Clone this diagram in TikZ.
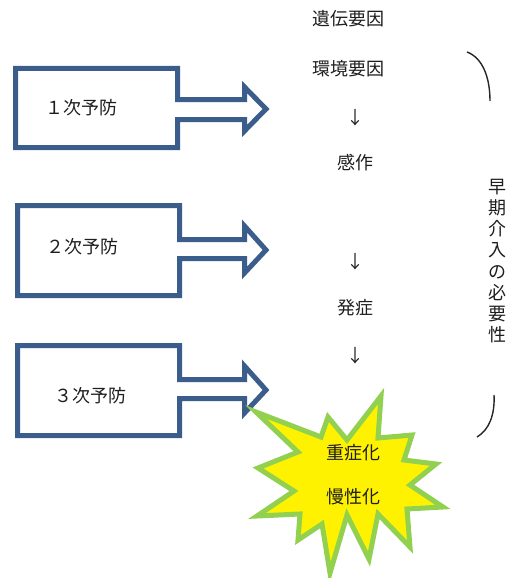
\documentclass[tikz,border=0pt]{standalone}
\usepackage{fontspec}
\newfontfamily\jpfont{Noto Sans CJK JP}
\definecolor{boxblue}{RGB}{59,93,140}
\definecolor{burstgreen}{RGB}{146,208,80}
\definecolor{txtgray}{RGB}{30,30,30}
\newcommand\prevshape[6]{% left right top bottom stemtop stembottom ; head via \headtop \headbot \tipy
  \draw[preventline] (#1,#3) -- (#2,#3) -- (#2,#5) -- (244.5,#5) -- (244.5,\headtop) -- (266,\tipy)
    -- (244.5,\headbot) -- (244.5,#6) -- (#2,#6) -- (#2,#4) -- (#1,#4) -- cycle;}
\begin{document}
\begin{tikzpicture}[x=1pt,y=-1pt,
  preventline/.style={draw=boxblue,line width=5pt,line join=miter,fill=white},
  lbl/.style={font=\jpfont\fontsize{18}{22}\selectfont,text=txtgray,inner sep=0pt},
  bracket/.style={draw=black!85,line width=1.4pt}]
\useasboundingbox (0,0) rectangle (513,578);
% arrow boxes
\def\headtop{87}\def\headbot{131}\def\tipy{109}
\prevshape{15.5}{177.5}{68.5}{147.5}{99.5}{119.5}
\def\headtop{226}\def\headbot{273}\def\tipy{250}
\prevshape{17.5}{179.5}{205.5}{295.5}{239.5}{258.5}
\def\headtop{366}\def\headbot{413}\def\tipy{390}
\prevshape{17.5}{179.5}{345.5}{435.5}{379.5}{398.5}
\node[lbl] (p1) at (81,108) {１次予防};
\node[lbl] (p2) at (82,247) {２次予防};
\node[lbl] (p3) at (90,396) {３次予防};
% starburst
\draw[fill=yellow,draw=burstgreen,line width=5pt,line join=miter]
  (256,412) -- (321,437) -- (328,417) -- (347,440) -- (381,396) -- (378,438)
  -- (412,435) -- (404,460) -- (436,464) -- (410,485) -- (443,507) -- (407,509)
  -- (410,547) -- (378,514) -- (369,559) -- (347,515) -- (330,573) -- (322,524)
  -- (298,540) -- (300,514) -- (257,516) -- (294,491) -- (258,468) -- (298,452) -- cycle;
\node[lbl] (s1) at (353,453) {重症化};
\node[lbl] (s2) at (353,497) {慢性化};
% centre column
\node[lbl] (g) at (348,19) {遺伝要因};
\node[lbl] (e) at (348,69) {環境要因};
\node[lbl] (a1) at (355,118) {↓};
\node[lbl] (k) at (355,163) {感作};
\node[lbl] (a2) at (355,262) {↓};
\node[lbl] (h) at (355,308) {発症};
\node[lbl] (a3) at (355,356) {↓};
% right side
\node[lbl,align=center,font=\jpfont\fontsize{18}{21.2}\selectfont] (v) at (497,261)
  {早\\期\\介\\入\\の\\必\\要\\性};
\coordinate (b1s) at (467,52);
\coordinate (b1e) at (490,101);
\coordinate (b2s) at (494,395);
\coordinate (b2e) at (477,437);
\draw[bracket] (b1s) .. controls (483,58) and (490,78) .. (b1e);
\draw[bracket] (b2s) .. controls (495,415) and (489,430) .. (b2e);
\end{tikzpicture}
\end{document}
